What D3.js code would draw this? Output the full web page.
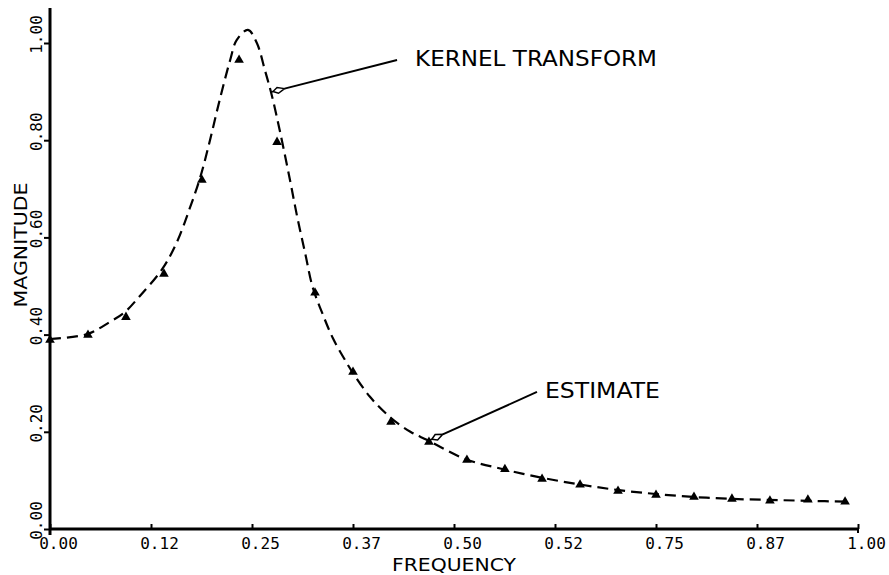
<!DOCTYPE html>
<html>
<head>
<meta charset="utf-8">
<script src="https://cdn.jsdelivr.net/npm/d3@7"></script>
<style>
  body { margin: 0; background: #fff; }
  svg { display: block; }
</style>
</head>
<body>
<div id="chart"></div>
<script>
// kernel transform
var kernelFreq = [0, 0.046, 0.074, 0.093, 0.111, 0.139, 0.157, 0.173, 0.186, 0.198,
  0.210, 0.223, 0.231, 0.245, 0.256, 0.266, 0.275, 0.285, 0.297, 0.306,
  0.316, 0.325, 0.337, 0.350, 0.365, 0.375, 0.396, 0.421, 0.446, 0.467, 0.514,
  0.561, 0.610, 0.658, 0.704, 0.750, 0.796, 0.842, 0.889, 0.937, 0.990];
var kernelMag = [0.391, 0.401, 0.426, 0.447, 0.479, 0.535, 0.590, 0.660, 0.724, 0.800,
  0.883, 0.965, 1.006, 1.027, 1.000, 0.944, 0.889, 0.815, 0.718, 0.642,
  0.566, 0.498, 0.444, 0.393, 0.348, 0.321, 0.272, 0.230, 0.200, 0.183, 0.144,
  0.123, 0.105, 0.091, 0.080, 0.072, 0.066, 0.062, 0.060, 0.058, 0.056];

// estimate (triangles)
var estFreq = [0, 0.047, 0.094, 0.141, 0.188, 0.234, 0.281, 0.328, 0.375, 0.422, 0.469,
  0.516, 0.563, 0.609, 0.656, 0.703, 0.750, 0.797, 0.844, 0.891, 0.938, 0.984];
var estMag = [0.389, 0.399, 0.436, 0.525, 0.718, 0.965, 0.796, 0.486, 0.323, 0.220, 0.179,
  0.142, 0.123, 0.103, 0.091, 0.078, 0.070, 0.066, 0.062, 0.058, 0.060, 0.056];

var xTickVals = [0, 0.125, 0.25, 0.375, 0.5, 0.625, 0.75, 0.875, 1.0];
var xTickLabels = ["0.00", "0.12", "0.25", "0.37", "0.50", "0.52", "0.75", "0.87", "1.00"];
var yTickVals = [0, 0.2, 0.4, 0.6, 0.8, 1.0];
var yTickLabels = ["0.00", "0.20", "0.40", "0.60", "0.80", "1.00"];

// annotations: anchor on the curve, end of leader line (data units)
var annotations = [
  { text: "KERNEL TRANSFORM", f0: 0.2735, m0: 0.899, f1: 0.4295, m1: 0.965, width: 242, dx: 18, size: 22 },
  { text: "ESTIMATE", f0: 0.4703, m0: 0.183, f1: 0.6027, m1: 0.282, width: 115, dx: 8, size: 21 }
];

var width = 889, height = 575;
var x = d3.scaleLinear().domain([0, 1]).range([50, 858]);
var y = d3.scaleLinear().domain([0, 1]).range([529, 43]);
var yTop = 1.072;

var svg = d3.select("#chart").append("svg")
  .attr("width", width)
  .attr("height", height);

// x axis, ticks pointing inward
var xAxis = d3.axisBottom(x)
  .tickValues(xTickVals)
  .tickFormat(function(d, i) { return xTickLabels[i]; })
  .tickSize(-5)
  .tickSizeOuter(0);

var gx = svg.append("g")
  .attr("transform", "translate(0," + y(0) + ")")
  .call(xAxis);
gx.select(".domain").remove();
gx.selectAll(".tick line").attr("stroke", "#000").attr("stroke-width", 2);
gx.selectAll(".tick text")
  .attr("x", 8)
  .attr("y", 20)
  .attr("dy", 0)
  .style("font-family", "'DejaVu Sans Mono', monospace")
  .style("font-size", "16px")
  .attr("fill", "#000");

// y axis, labels rotated
var yAxis = d3.axisLeft(y)
  .tickValues(yTickVals)
  .tickFormat(function(d, i) { return yTickLabels[i]; })
  .tickSize(6)
  .tickSizeOuter(0);

var gy = svg.append("g")
  .attr("transform", "translate(" + x(0) + ",0)")
  .call(yAxis);
gy.select(".domain").remove();
gy.selectAll(".tick line").attr("stroke", "#000").attr("stroke-width", 2);
gy.selectAll(".tick text")
  .attr("x", 0)
  .attr("dy", 0)
  .attr("text-anchor", "middle")
  .attr("transform", "translate(-8,-9) rotate(-90)")
  .style("font-family", "'DejaVu Sans Mono', monospace")
  .style("font-size", "16px")
  .attr("fill", "#000");

// heavy axis lines
svg.append("line")
  .attr("x1", x(0)).attr("x2", x(1))
  .attr("y1", y(0)).attr("y2", y(0))
  .attr("stroke", "#000").attr("stroke-width", 3);
svg.append("line")
  .attr("x1", x(0)).attr("x2", x(0))
  .attr("y1", y(0) + 6).attr("y2", y(yTop))
  .attr("stroke", "#000").attr("stroke-width", 3);
svg.append("line")
  .attr("x1", x(1)).attr("x2", x(1))
  .attr("y1", y(0)).attr("y2", y(0) + 4)
  .attr("stroke", "#000").attr("stroke-width", 2);

// axis titles
svg.append("text")
  .attr("x", (x(0) + x(1)) / 2)
  .attr("y", 571)
  .attr("text-anchor", "middle")
  .attr("textLength", 124)
  .attr("lengthAdjust", "spacingAndGlyphs")
  .style("font-family", "'DejaVu Sans', sans-serif")
  .style("font-size", "17px")
  .text("FREQUENCY");

svg.append("text")
  .attr("transform", "translate(27,245) rotate(-90)")
  .attr("text-anchor", "middle")
  .attr("textLength", 125)
  .attr("lengthAdjust", "spacingAndGlyphs")
  .style("font-family", "'DejaVu Sans', sans-serif")
  .style("font-size", "17px")
  .text("MAGNITUDE");

// kernel transform dashed curve
var kernel = kernelFreq.map(function(f, i) { return { f: f, m: kernelMag[i] }; });
var line = d3.line()
  .x(function(d) { return x(d.f); })
  .y(function(d) { return y(d.m); })
  .curve(d3.curveCatmullRom.alpha(0.5));

svg.append("path")
  .datum(kernel)
  .attr("d", line)
  .attr("fill", "none")
  .attr("stroke", "#000")
  .attr("stroke-width", 2.2)
  .attr("stroke-dasharray", "11,6");

// estimate triangles
var est = estFreq.map(function(f, i) { return { f: f, m: estMag[i] }; });
svg.append("g")
  .selectAll("path")
  .data(est)
  .enter()
  .append("path")
  .attr("d", d3.symbol().type(d3.symbolTriangle).size(40))
  .attr("transform", function(d) { return "translate(" + x(d.f) + "," + y(d.m) + ")"; })
  .attr("fill", "#000");

// annotation leaders with small open arrow heads
annotations.forEach(function(a) {
  var px0 = x(a.f0), py0 = y(a.m0), px1 = x(a.f1), py1 = y(a.m1);
  var len = Math.sqrt((px1 - px0) * (px1 - px0) + (py1 - py0) * (py1 - py0));
  var ux = (px1 - px0) / len, uy = (py1 - py0) / len;
  var nx = -uy, ny = ux;
  var head = [
    [px0 + ux * 2, py0 + uy * 2],
    [px0 + ux * 7 + nx * 3, py0 + uy * 7 + ny * 3],
    [px0 + ux * 14, py0 + uy * 14],
    [px0 + ux * 7 - nx * 3, py0 + uy * 7 - ny * 3]
  ];
  svg.append("line")
    .attr("x1", px0).attr("y1", py0)
    .attr("x2", px0 + ux * 2).attr("y2", py0 + uy * 2)
    .attr("stroke", "#000").attr("stroke-width", 1.6);
  svg.append("line")
    .attr("x1", px0 + ux * 14).attr("y1", py0 + uy * 14)
    .attr("x2", px1).attr("y2", py1)
    .attr("stroke", "#000").attr("stroke-width", 2);
  svg.append("path")
    .attr("d", "M" + head.join("L") + "Z")
    .attr("fill", "#fff")
    .attr("stroke", "#000")
    .attr("stroke-width", 1.5);
  svg.append("text")
    .attr("x", px1 + a.dx)
    .attr("y", py1 + 6)
    .attr("textLength", a.width)
    .attr("lengthAdjust", "spacingAndGlyphs")
    .style("font-family", "'DejaVu Sans', sans-serif")
    .style("font-size", a.size + "px")
    .text(a.text);
});
</script>
</body>
</html>
